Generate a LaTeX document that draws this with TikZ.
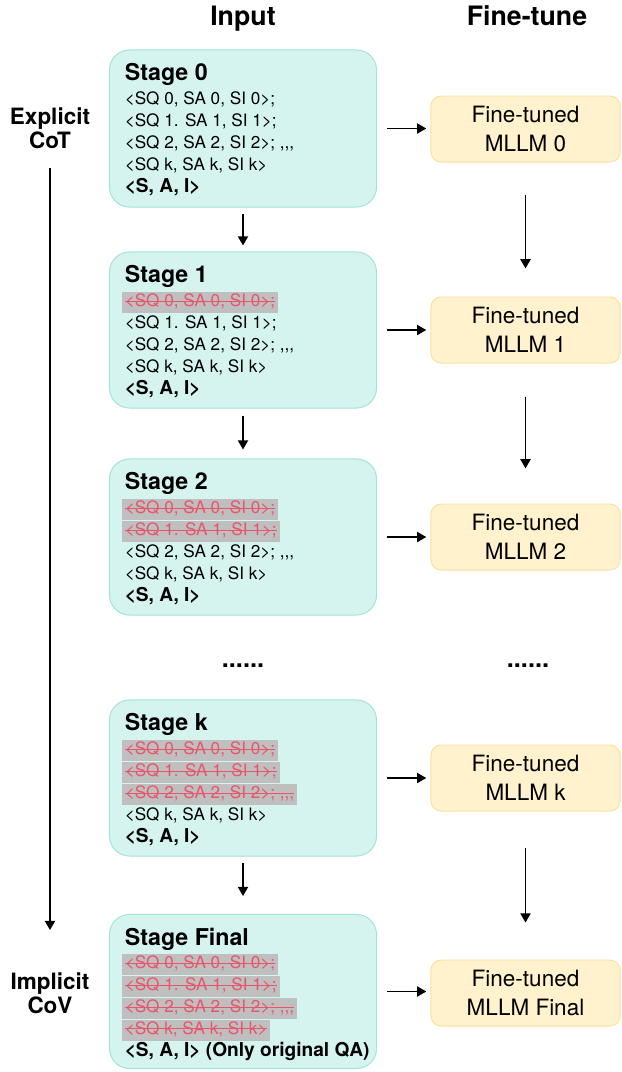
\documentclass[tikz,border=0pt]{standalone}
\usepackage{fontspec}
\setmainfont{TeX Gyre Heros}
\usetikzlibrary{arrows.meta}
\definecolor{stagefill}{HTML}{D5F4F0}
\definecolor{stageline}{HTML}{A2E3DA}
\definecolor{tunedfill}{HTML}{FFF2CC}
\definecolor{tunedline}{HTML}{F8E1A2}
\definecolor{cutred}{HTML}{E8566C}
\definecolor{cutgray}{HTML}{BFBFBF}
\setlength{\fboxsep}{0pt}
\newsavebox\cutbox
% 消された行
\newcommand{\cutline}[1]{\sbox\cutbox{\color{cutred}#1}\hspace*{-2pt}\colorbox{cutgray}{\hspace{2pt}\rule[-4.5pt]{0pt}{15pt}\color{cutred}\rlap{\usebox\cutbox}\rule[3.8pt]{\wd\cutbox}{0.6pt}\hspace{2pt}}}
% 残る行
\newcommand{\keepline}[1]{\rule[-4.5pt]{0pt}{15pt}#1}
% 最後の太字行
\newcommand{\boldline}[1]{\rule[-4.5pt]{0pt}{15pt}{\fontsize{13.6}{15.6}\selectfont\bfseries #1}}
\tikzset{
  stagebox/.style={draw=stageline, fill=stagefill, line width=0.7pt, rounded corners=0.5cm, minimum width=6.675cm},
  tunedbox/.style={draw=tunedline, fill=tunedfill, line width=0.7pt, rounded corners=0.25cm, minimum width=4.725cm, minimum height=1.65cm, align=center, font=\fontsize{16}{21}\selectfont},
  headtext/.style={font=\fontsize{19}{22}\selectfont\bfseries, anchor=base},
  sidetext/.style={font=\fontsize{16}{17}\selectfont\bfseries, align=center},
  titletext/.style={font=\fontsize{16.5}{19}\selectfont\bfseries, anchor=base west, inner sep=0pt},
  bodytext/.style={font=\fontsize{12.2}{15.6}\selectfont, anchor=north west, align=left, inner sep=0pt},
  dotstext/.style={font=\fontsize{18}{20}\selectfont\bfseries, anchor=base},
  flow/.style={->, line width=1.2pt}
}
\begin{document}
\begin{tikzpicture}[x=0.025cm, y=-0.025cm, >={Triangle[length=6.5pt, width=7.2pt]}]
  \useasboundingbox (0,0) rectangle (621,1072);
  % 見出し
  \node[headtext] (hin) at (243,25) {Input};
  \node[headtext] (hft) at (527,25) {Fine-tune};
  % 左側のラベルと矢印
  \node[sidetext] (expl) at (50,128) {Explicit\\CoT};
  \node[sidetext] (impl) at (50,993) {Implicit\\CoV};
  \coordinate (cotStart) at (50,168);
  \coordinate (covEnd) at (50,930);
  \draw[flow] (cotStart) -- (covEnd);

  % Stage 0
  \node[stagebox, minimum height=3.925cm] (s0) at (243,128.5) {};
  \node[titletext] (t0) at (124.5,80.4) {Stage 0};
  \node[bodytext] (b0) at (124.5,89.8) {\keepline{<SQ 0, SA 0, SI 0>;}\\
    \keepline{<SQ 1. SA 1, SI 1>;}\\
    \keepline{<SQ 2, SA 2, SI 2>; ,{},{},}\\
    \keepline{<SQ k, SA k, SI k>}\\
    \boldline{<S, A, I>}};
  % Stage 1
  \node[stagebox, minimum height=3.9cm] (s1) at (243,330) {};
  \node[titletext] (t1) at (124.5,282.4) {Stage 1};
  \node[bodytext] (b1) at (124.5,291.8) {\cutline{<SQ 0, SA 0, SI 0>;}\\
    \keepline{<SQ 1. SA 1, SI 1>;}\\
    \keepline{<SQ 2, SA 2, SI 2>; ,{},{},}\\
    \keepline{<SQ k, SA k, SI k>}\\
    \boldline{<S, A, I>}};
  % Stage 2
  \node[stagebox, minimum height=3.9cm] (s2) at (243,537) {};
  \node[titletext] (t2) at (124.5,489.4) {Stage 2};
  \node[bodytext] (b2) at (124.5,498.8) {\cutline{<SQ 0, SA 0, SI 0>;}\\
    \cutline{<SQ 1. SA 1, SI 1>;}\\
    \keepline{<SQ 2, SA 2, SI 2>; ,{},{},}\\
    \keepline{<SQ k, SA k, SI k>}\\
    \boldline{<S, A, I>}};
  % 省略記号
  \node[dotstext] (dotl) at (243,667) {......};
  \node[dotstext] (dotr) at (528,667) {......};
  % Stage k
  \node[stagebox, minimum height=3.9cm] (sk) at (243,778) {};
  \node[titletext] (tk) at (124.5,730.4) {Stage k};
  \node[bodytext] (bk) at (124.5,739.8) {\cutline{<SQ 0, SA 0, SI 0>;}\\
    \cutline{<SQ 1. SA 1, SI 1>;}\\
    \cutline{<SQ 2, SA 2, SI 2>; ,{},{},}\\
    \keepline{<SQ k, SA k, SI k>}\\
    \boldline{<S, A, I>}};
  % Stage Final
  \node[stagebox, minimum height=3.85cm] (sf) at (243,991.5) {};
  \node[titletext] (tf) at (124.5,945.4) {Stage Final};
  \node[bodytext] (bf) at (124.5,953.8) {\cutline{<SQ 0, SA 0, SI 0>;}\\
    \cutline{<SQ 1. SA 1, SI 1>;}\\
    \cutline{<SQ 2, SA 2, SI 2>; ,{},{},}\\
    \cutline{<SQ k, SA k, SI k>}\\
    \boldline{<S, A, I> (Only original QA)}};

  % 段階間の矢印
  \draw[flow, shorten <=4.3pt, shorten >=4.3pt] (s0.south) -- (s1.north);
  \draw[flow, shorten <=5pt, shorten >=6.4pt] (s1.south) -- (s2.north);
  \draw[flow, shorten <=4.3pt, shorten >=12.8pt] (sk.south) -- (sf.north);

  % 微調整モデル
  \node[tunedbox] (f0) at (525.5,129) {Fine-tuned\\MLLM 0};
  \node[tunedbox] (f1) at (525.5,330) {Fine-tuned\\MLLM 1};
  \node[tunedbox] (f2) at (525.5,537) {Fine-tuned\\MLLM 2};
  \node[tunedbox] (fk) at (525.5,778) {Fine-tuned\\MLLM k};
  \node[tunedbox] (ff) at (525.5,993) {Fine-tuned\\MLLM Final};

  % 入力から微調整への矢印
  \draw[flow, shorten <=7pt, shorten >=3pt] (s0.east) -- (s0.east -| f0.west);
  \draw[flow, shorten <=7pt, shorten >=3pt] (s1.east) -- (f1.west);
  \draw[flow, shorten <=7pt, shorten >=3pt] (s2.east) -- (f2.west);
  \draw[flow, shorten <=7pt, shorten >=3pt] (sk.east) -- (fk.west);
  \draw[flow, shorten <=7pt, shorten >=3pt] (sf.east) -- (sf.east -| ff.west);

  % 微調整モデル間の矢印
  \draw[flow, shorten <=22.8pt, shorten >=20pt] (f0.south) -- (f1.north);
  \draw[flow, shorten <=23.5pt, shorten >=25pt] (f1.south) -- (f2.north);
  \draw[flow, shorten <=26.3pt, shorten >=26.3pt] (fk.south) -- (ff.north);
\end{tikzpicture}
\end{document}
